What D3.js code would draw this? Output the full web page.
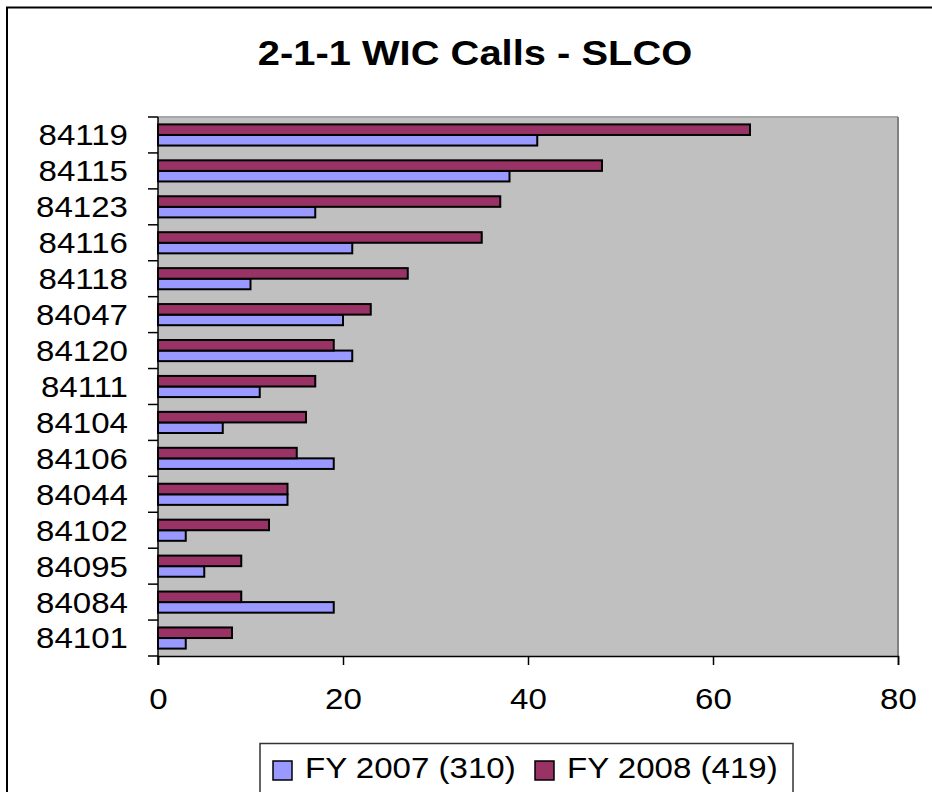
<!DOCTYPE html>
<meta charset="utf-8">
<style>
body { margin: 0; background: #fff; }
svg text { font-family: "Liberation Sans", Arial, sans-serif; fill: #000; }
</style>
<svg width="932" height="792"></svg>
<script src="https://d3js.org/d3.v7.min.js"></script>
<script>
// values
var zips = ["84119", "84115", "84123", "84116", "84118", "84047", "84120", "84111",
            "84104", "84106", "84044", "84102", "84095", "84084", "84101"];
var fy2007 = [41, 38, 17, 21, 10, 20, 21, 11, 7, 19, 14, 3, 5, 19, 3];
var fy2008 = [64, 48, 37, 35, 27, 23, 19, 17, 16, 15, 14, 12, 9, 9, 8];
var seriesNames = ["FY 2007 (310)", "FY 2008 (419)"];
var seriesColors = ["#9999FF", "#993366"];
var xTicks = [0, 20, 40, 60, 80];
var title = "2-1-1 WIC Calls - SLCO";

var svg = d3.select("svg");
var stretch = 1.14;   // the original text is a bit wide

var plot = {left: 158, top: 117, right: 898, bottom: 656};

var x = d3.scaleLinear().domain([0, 80]).range([plot.left, plot.right]);
var y0 = d3.scaleBand().domain(zips).range([plot.top, plot.bottom]);
// 2008 bar sits above the 2007 bar inside each band
var y1 = d3.scaleBand().domain([1, 0]).range([0, y0.bandwidth()])
    .paddingInner(0).paddingOuter(0.7);

// outer chart frame (runs off the right and bottom of the picture)
svg.append("rect")
    .attr("x", 7).attr("y", 7.5)
    .attr("width", 1000).attr("height", 1000)
    .attr("fill", "none").attr("stroke", "#000").attr("stroke-width", 2);

svg.append("text")
    .attr("x", 475).attr("y", 65)
    .attr("text-anchor", "middle")
    .style("font-size", "35px").style("font-weight", "bold")
    .text(title);

// plot area
svg.append("rect")
    .attr("x", plot.left).attr("y", plot.top)
    .attr("width", plot.right - plot.left).attr("height", plot.bottom - plot.top)
    .attr("fill", "#C0C0C0");
svg.append("line")
    .attr("x1", plot.left).attr("x2", plot.right)
    .attr("y1", plot.top).attr("y2", plot.top)
    .attr("stroke", "#a6a6a6").attr("stroke-width", 2);
svg.append("line")
    .attr("x1", plot.right).attr("x2", plot.right)
    .attr("y1", plot.top).attr("y2", plot.bottom)
    .attr("stroke", "#808080").attr("stroke-width", 2);

// bars
var rows = zips.map(function(z, i) { return {zip: z, vals: [fy2007[i], fy2008[i]]}; });
var groups = svg.append("g").selectAll("g")
    .data(rows)
    .enter().append("g")
    .attr("transform", function(d) { return "translate(0," + y0(d.zip) + ")"; });

groups.selectAll("rect")
    .data(function(d) { return d.vals.map(function(v, s) { return {v: v, s: s}; }); })
    .enter().append("rect")
    .attr("x", x(0))
    .attr("y", function(d) { return y1(d.s); })
    .attr("width", function(d) { return x(d.v) - x(0); })
    .attr("height", y1.bandwidth())
    .attr("fill", function(d) { return seriesColors[d.s]; })
    .attr("stroke", "#000")
    .attr("stroke-width", 2);

// y axis: line, ticks between categories, labels
var yAxis = svg.append("g").attr("transform", "translate(" + plot.left + ",0)")
    .call(d3.axisLeft(y0).tickSize(0).tickPadding(30));
yAxis.select(".domain").remove();
yAxis.selectAll("text")
    .style("font-size", "29px").style("font-family", null)
    .attr("dy", "0.36em");

var bounds = zips.map(function(z) { return y0(z); }).concat([plot.bottom]);
svg.append("g").selectAll("line")
    .data(bounds)
    .enter().append("line")
    .attr("x1", plot.left - 10).attr("x2", plot.left)
    .attr("y1", function(d) { return d; }).attr("y2", function(d) { return d; })
    .attr("stroke", "#000").attr("stroke-width", 1.5);
svg.append("line")
    .attr("x1", plot.left).attr("x2", plot.left)
    .attr("y1", plot.top).attr("y2", plot.bottom + 9)
    .attr("stroke", "#000").attr("stroke-width", 1.5);

// x axis
var xAxis = svg.append("g").attr("transform", "translate(0," + plot.bottom + ")")
    .call(d3.axisBottom(x).tickValues(xTicks).tickSize(9).tickPadding(23));
xAxis.select(".domain").attr("stroke-width", 1.5);
xAxis.selectAll(".tick line").attr("stroke-width", 1.5);
xAxis.selectAll("text").style("font-size", "29px").style("font-family", null);

// legend
svg.append("rect")
    .attr("x", 260).attr("y", 743.5)
    .attr("width", 533).attr("height", 100)
    .attr("fill", "#fff").attr("stroke", "#333").attr("stroke-width", 1.5);

var legendX = [273, 535];
var legend = svg.append("g").selectAll("g")
    .data(seriesNames)
    .enter().append("g")
    .attr("transform", function(d, i) { return "translate(" + legendX[i] + ",0)"; });
legend.append("rect")
    .attr("x", 0).attr("y", 761)
    .attr("width", 19).attr("height", 19)
    .attr("fill", function(d, i) { return seriesColors[i]; })
    .attr("stroke", "#000").attr("stroke-width", 1.5);
legend.append("text")
    .attr("x", 32).attr("y", 778)
    .style("font-size", "29px")
    .text(function(d) { return d; });

// widen every label a little to match the original
svg.selectAll("text").each(function() {
  var w = this.getComputedTextLength();
  d3.select(this).attr("textLength", w * stretch).attr("lengthAdjust", "spacingAndGlyphs");
});
</script>
